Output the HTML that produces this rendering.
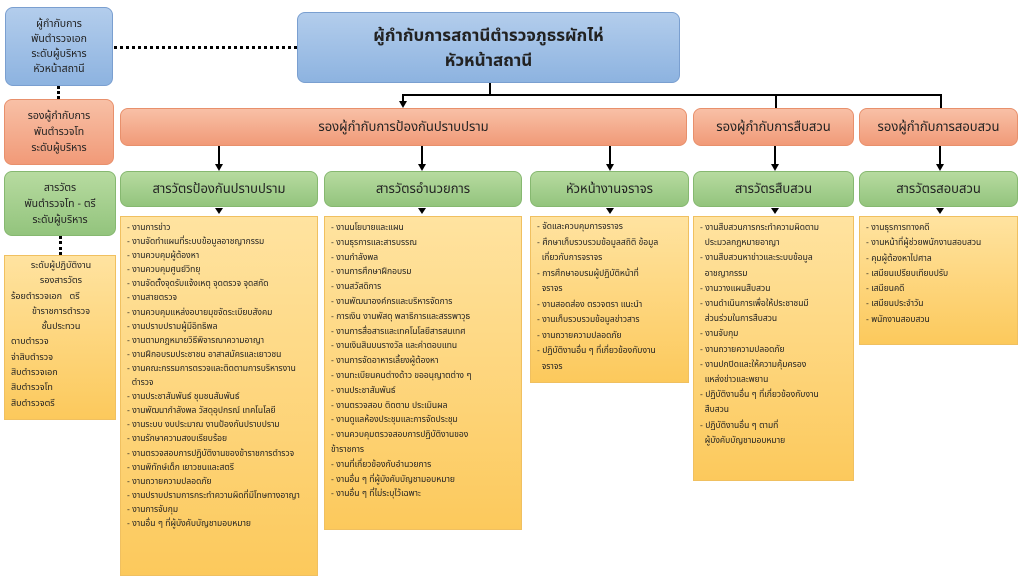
<!DOCTYPE html>
<html><head><meta charset="utf-8"><style>
body{margin:0;width:1024px;height:576px;background:#fff;position:relative;overflow:hidden;font-family:"Liberation Sans","Noto Sans Thai","Garuda","Loma",sans-serif;color:#222}
.b{position:absolute;box-sizing:border-box;display:flex;align-items:center;justify-content:center;text-align:center;border-radius:8px}
.blue{background:linear-gradient(#b3cdec,#8db3e0);border:1px solid #7a9fd0}
.sal{background:linear-gradient(#f8c0a6,#f19a78);border:1px solid #e8906c}
.grn{background:linear-gradient(#b7dba0,#93c47d);border:1px solid #86b870}
.yel{position:absolute;box-sizing:border-box;background:linear-gradient(#ffe3a0,#fcc95c);border:1px solid #f0c060;font-size:8.5px;padding:3px 4px 0 6px;white-space:nowrap;overflow:hidden}
.yel div{white-space:nowrap}
.v{position:absolute;width:2px;background:#000}
.h{position:absolute;height:2px;background:#000}
.ar{position:absolute;width:0;height:0;border-left:4px solid transparent;border-right:4px solid transparent;border-top:7px solid #000}
.dv{position:absolute;border-left:3px dotted #000;width:0}
</style></head><body>
<div class="b blue" style="left:5px;top:7px;width:108px;height:79px;font-size:10.5px;line-height:15px">ผู้กำกับการ<br>พันตำรวจเอก<br>ระดับผู้บริหาร<br>หัวหน้าสถานี</div>
<div style="position:absolute;left:114px;top:46px;width:183px;border-top:3px dotted #000"></div>
<div class="dv" style="left:57px;top:86px;height:13px"></div>
<div class="b sal" style="left:4px;top:99px;width:110px;height:66px;font-size:10.5px;line-height:16px">รองผู้กำกับการ<br>พันตำรวจโท<br>ระดับผู้บริหาร</div>
<div class="b grn" style="left:4px;top:171px;width:112px;height:65px;font-size:10.5px;line-height:16px">สารวัตร<br>พันตำรวจโท - ตรี<br>ระดับผู้บริหาร</div>
<div class="dv" style="left:59px;top:236px;height:19px"></div>
<div class="yel" style="left:4px;top:255px;width:112px;height:165px;font-size:9px;line-height:15.3px;padding-top:2px">
<div style="text-align:center">ระดับผู้ปฏิบัติงาน</div><div style="text-align:center">รองสารวัตร</div><div>ร้อยตำรวจเอก &nbsp; ตรี</div><div style="text-align:center">ข้าราชการตำรวจ</div><div style="text-align:center">ชั้นประทวน</div><div>ดาบตำรวจ</div><div>จ่าสิบตำรวจ</div><div>สิบตำรวจเอก</div><div>สิบตำรวจโท</div><div>สิบตำรวจตรี</div></div>

<div class="b blue" style="left:297px;top:12px;width:383px;height:71px;font-size:17px;line-height:25px;font-weight:bold">ผู้กำกับการสถานีตำรวจภูธรผักไห่<br>หัวหน้าสถานี</div>
<div class="v" style="left:489px;top:83px;height:13px"></div>
<div class="h" style="left:402px;top:94px;width:540px"></div>
<div class="v" style="left:402px;top:94px;height:8px"></div><div class="ar" style="left:399px;top:101px"></div>
<div class="v" style="left:775px;top:94px;height:14px"></div>
<div class="v" style="left:940px;top:94px;height:14px"></div>

<div class="b sal" style="left:120px;top:108px;width:567px;height:38px;font-size:13px">รองผู้กำกับการป้องกันปราบปราม</div>
<div class="b sal" style="left:693px;top:108px;width:161px;height:38px;font-size:13px">รองผู้กำกับการสืบสวน</div>
<div class="b sal" style="left:859px;top:108px;width:159px;height:38px;font-size:13px">รองผู้กำกับการสอบสวน</div>

<div class="v" style="left:218px;top:146px;height:18px"></div><div class="ar" style="left:215px;top:164px"></div>
<div class="v" style="left:421px;top:146px;height:18px"></div><div class="ar" style="left:418px;top:164px"></div>
<div class="v" style="left:609px;top:146px;height:18px"></div><div class="ar" style="left:606px;top:164px"></div>
<div class="v" style="left:774px;top:146px;height:18px"></div><div class="ar" style="left:771px;top:164px"></div>
<div class="v" style="left:939px;top:146px;height:18px"></div><div class="ar" style="left:936px;top:164px"></div>

<div class="b grn" style="left:120px;top:171px;width:198px;height:36px;font-size:13px">สารวัตรป้องกันปราบปราม</div>
<div class="b grn" style="left:324px;top:171px;width:198px;height:36px;font-size:13px">สารวัตรอำนวยการ</div>
<div class="b grn" style="left:530px;top:171px;width:159px;height:36px;font-size:13px">หัวหน้างานจราจร</div>
<div class="b grn" style="left:693px;top:171px;width:161px;height:36px;font-size:13px">สารวัตรสืบสวน</div>
<div class="b grn" style="left:859px;top:171px;width:159px;height:36px;font-size:13px">สารวัตรสอบสวน</div>

<div class="ar" style="left:215px;top:208px;border-top-width:6px"></div>
<div class="ar" style="left:418px;top:208px;border-top-width:6px"></div>
<div class="ar" style="left:606px;top:208px;border-top-width:6px"></div>
<div class="ar" style="left:771px;top:208px;border-top-width:6px"></div>
<div class="ar" style="left:936px;top:208px;border-top-width:6px"></div>

<div class="yel" style="left:120px;top:216px;width:198px;height:360px;line-height:14.1px">
<div>- งานการข่าว</div><div>- งานจัดทำแผนที่ระบบข้อมูลอาชญากรรม</div><div>- งานควบคุมผู้ต้องหา</div><div>- งานควบคุมศูนย์วิทยุ</div><div>- งานจัดตั้งจุดรับแจ้งเหตุ จุดตรวจ จุดสกัด</div><div>- งานสายตรวจ</div><div>- งานควบคุมแหล่งอบายมุขจัดระเบียบสังคม</div><div>- งานปราบปรามผู้มีอิทธิพล</div><div>- งานตามกฎหมายวิธีพิจารณาความอาญา</div><div>- งานฝึกอบรมประชาชน อาสาสมัครและเยาวชน</div><div>- งานคณะกรรมการตรวจและติดตามการบริหารงาน</div><div>&nbsp;&nbsp;ตำรวจ</div><div>- งานประชาสัมพันธ์ ชุมชนสัมพันธ์</div><div>- งานพัฒนากำลังพล วัสดุอุปกรณ์ เทคโนโลยี</div><div>- งานระบบ งบประมาณ งานป้องกันปราบปราม</div><div>- งานรักษาความสงบเรียบร้อย</div><div>- งานตรวจสอบการปฏิบัติงานของข้าราชการตำรวจ</div><div>- งานพิทักษ์เด็ก เยาวชนและสตรี</div><div>- งานถวายความปลอดภัย</div><div>- งานปราบปรามการกระทำความผิดที่มีโทษทางอาญา</div><div>- งานการจับกุม</div><div>- งานอื่น ๆ ที่ผู้บังคับบัญชามอบหมาย</div></div>

<div class="yel" style="left:324px;top:216px;width:198px;height:314px;line-height:14.8px">
<div>- งานนโยบายและแผน</div><div>- งานธุรการและสารบรรณ</div><div>- งานกำลังพล</div><div>- งานการศึกษาฝึกอบรม</div><div>- งานสวัสดิการ</div><div>- งานพัฒนาองค์กรและบริหารจัดการ</div><div>- การเงิน งานพัสดุ พลาธิการและสรรพาวุธ</div><div>- งานการสื่อสารและเทคโนโลยีสารสนเทศ</div><div>- งานเงินสินบนรางวัล และค่าตอบแทน</div><div>- งานการจัดอาหารเลี้ยงผู้ต้องหา</div><div>- งานทะเบียนคนต่างด้าว ขออนุญาตต่าง ๆ</div><div>- งานประชาสัมพันธ์</div><div>- งานตรวจสอบ ติดตาม ประเมินผล</div><div>- งานดูแลห้องประชุมและการจัดประชุม</div><div>- งานควบคุมตรวจสอบการปฏิบัติงานของ</div><div>ข้าราชการ</div><div>- งานที่เกี่ยวข้องกับอำนวยการ</div><div>- งานอื่น ๆ ที่ผู้บังคับบัญชามอบหมาย</div><div>- งานอื่น ๆ ที่ไม่ระบุไว้เฉพาะ</div></div>

<div class="yel" style="left:530px;top:216px;width:159px;height:167px;line-height:15.5px;padding-top:2px">
<div>- จัดและควบคุมการจราจร</div><div>- ศึกษาเก็บรวบรวมข้อมูลสถิติ ข้อมูล</div><div>&nbsp;&nbsp;เกี่ยวกับการจราจร</div><div>- การศึกษาอบรมผู้ปฏิบัติหน้าที่</div><div>&nbsp;&nbsp;จราจร</div><div>- งานสอดส่อง ตรวจตรา แนะนำ</div><div>- งานเก็บรวบรวมข้อมูลข่าวสาร</div><div>- งานถวายความปลอดภัย</div><div>- ปฏิบัติงานอื่น ๆ ที่เกี่ยวข้องกับงาน</div><div>&nbsp;&nbsp;จราจร</div></div>

<div class="yel" style="left:693px;top:216px;width:161px;height:265px;line-height:15.2px">
<div>- งานสืบสวนการกระทำความผิดตาม</div><div>&nbsp;&nbsp;ประมวลกฎหมายอาญา</div><div>- งานสืบสวนหาข่าวและระบบข้อมูล</div><div>&nbsp;&nbsp;อาชญากรรม</div><div>- งานวางแผนสืบสวน</div><div>- งานดำเนินการเพื่อให้ประชาชนมี</div><div>&nbsp;&nbsp;ส่วนร่วมในการสืบสวน</div><div>- งานจับกุม</div><div>- งานถวายความปลอดภัย</div><div>- งานปกปิดและให้ความคุ้มครอง</div><div>&nbsp;&nbsp;แหล่งข่าวและพยาน</div><div>- ปฏิบัติงานอื่น ๆ ที่เกี่ยวข้องกับงาน</div><div>&nbsp;&nbsp;สืบสวน</div><div>- ปฏิบัติงานอื่น ๆ ตามที่</div><div>&nbsp;&nbsp;ผู้บังคับบัญชามอบหมาย</div></div>

<div class="yel" style="left:859px;top:216px;width:159px;height:129px;line-height:15.3px">
<div>- งานธุรการทางคดี</div><div>- งานหน้าที่ผู้ช่วยพนักงานสอบสวน</div><div>- คุมผู้ต้องหาไปศาล</div><div>- เสมียนเปรียบเทียบปรับ</div><div>- เสมียนคดี</div><div>- เสมียนประจำวัน</div><div>- พนักงานสอบสวน</div></div>
</body></html>
